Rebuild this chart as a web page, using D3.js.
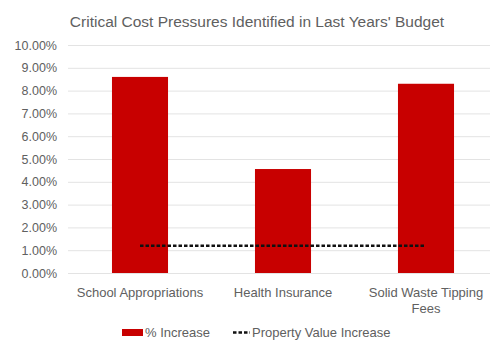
<!DOCTYPE html>
<html>
<head>
<meta charset="utf-8">
<script src="https://cdn.jsdelivr.net/npm/d3@7"></script>
<style>
  html, body { margin: 0; padding: 0; background: #fff; }
  svg { display: block; font-family: "Liberation Sans", Arial, sans-serif; }
</style>
</head>
<body>
<svg id="chart" width="490" height="341"></svg>
<script>
// Cost drivers and their year-over-year increases (percent)
const categories = ["School Appropriations", "Health Insurance", "Solid Waste Tipping Fees"];
const pctIncrease = [8.6, 4.56, 8.3];
const propertyValueIncrease = [1.2, 1.2, 1.2];
const yTicks = [0, 1, 2, 3, 4, 5, 6, 7, 8, 9, 10];

const svg = d3.select("#chart");
const textColor = "#606060";

const x = d3.scaleBand()
  .domain(categories)
  .range([68.5, 497.5])
  .paddingInner(0.608)
  .paddingOuter(0.304);

const y = d3.scaleLinear().domain([0, 10]).range([273, 45]);

// Title
svg.append("text")
  .attr("x", 257).attr("y", 27)
  .attr("text-anchor", "middle")
  .attr("font-size", 15.5)
  .attr("fill", textColor)
  .text("Critical Cost Pressures Identified in Last Years' Budget");

// Horizontal gridlines
svg.append("g")
  .selectAll("line")
  .data(yTicks)
  .join("line")
  .attr("x1", 68).attr("x2", 490)
  .attr("y1", d => y(d) + 0.5).attr("y2", d => y(d) + 0.5)
  .attr("stroke", "#e3e3e3")
  .attr("stroke-width", 1);

// Y axis labels
const yAxis = d3.axisLeft(y)
  .tickValues(yTicks)
  .tickSize(0)
  .tickPadding(0)
  .tickFormat(d => d3.format(".2f")(d) + "%");
const gy = svg.append("g").attr("transform", "translate(57,0)").call(yAxis);
gy.select(".domain").remove();
gy.selectAll("text")
  .attr("font-size", 12.5)
  .attr("fill", textColor)
  .attr("font-family", "Liberation Sans, Arial, sans-serif");

// Bars
svg.append("g")
  .selectAll("rect")
  .data(categories)
  .join("rect")
  .attr("x", d => x(d))
  .attr("width", x.bandwidth())
  .attr("y", (d, i) => y(pctIncrease[i]))
  .attr("height", (d, i) => y(0) - y(pctIncrease[i]))
  .attr("fill", "#c80000");

// Property value increase line
const line = d3.line()
  .x((d, i) => x(categories[i]) + x.bandwidth() / 2)
  .y(d => y(d));
svg.append("path")
  .datum(propertyValueIncrease)
  .attr("d", line)
  .attr("fill", "none")
  .attr("stroke", "#111")
  .attr("stroke-width", 2.5)
  .attr("stroke-dasharray", "3.5,2");

// Category labels (wrapped)
const xLabelLines = [["School Appropriations"], ["Health Insurance"], ["Solid Waste Tipping", "Fees"]];
const gx = svg.append("g");
categories.forEach((c, i) => {
  const t = gx.append("text")
    .attr("x", x(c) + x.bandwidth() / 2)
    .attr("y", 297)
    .attr("text-anchor", "middle")
    .attr("font-size", 13)
    .attr("fill", textColor);
  xLabelLines[i].forEach((ln, j) => {
    t.append("tspan")
      .attr("x", x(c) + x.bandwidth() / 2)
      .attr("dy", j === 0 ? 0 : 16)
      .text(ln);
  });
});

// Legend
const legend = svg.append("g");
legend.append("rect")
  .attr("x", 122).attr("y", 329)
  .attr("width", 21).attr("height", 7)
  .attr("fill", "#c80000");
legend.append("text")
  .attr("x", 145).attr("y", 337)
  .attr("font-size", 13)
  .attr("fill", textColor)
  .text("% Increase");
legend.append("line")
  .attr("x1", 233).attr("x2", 250)
  .attr("y1", 332.5).attr("y2", 332.5)
  .attr("stroke", "#111")
  .attr("stroke-width", 2.5)
  .attr("stroke-dasharray", "3.5,2");
legend.append("text")
  .attr("x", 252).attr("y", 337)
  .attr("font-size", 13)
  .attr("fill", textColor)
  .text("Property Value Increase");
</script>
</body>
</html>
